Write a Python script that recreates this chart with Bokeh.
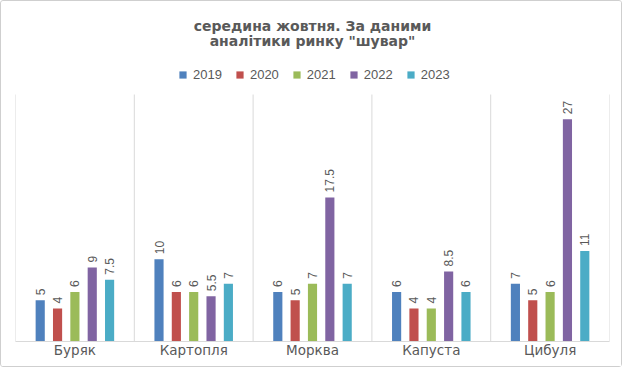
import math
from bokeh.plotting import figure
from bokeh.models import (ColumnDataSource, FixedTicker, Legend, LegendItem, Label)
from bokeh.core.properties import value
from bokeh.embed import file_html
from bokeh.resources import INLINE

categories = ["Буряк", "Картопля", "Морква", "Капуста", "Цибуля"]
years = ["2019", "2020", "2021", "2022", "2023"]
v2019 = [5, 10, 6, 6, 7]
v2020 = [4, 6, 5, 4, 5]
v2021 = [6, 6, 7, 4, 6]
v2022 = [9, 5.5, 17.5, 8.5, 27]
v2023 = [7.5, 7, 7, 6, 11]
series = [v2019, v2020, v2021, v2022, v2023]
colors = ["#4F81BD", "#C0504D", "#9BBB59", "#8064A2", "#4BACC6"]
title_lines = ["середина жовтня. За даними", "аналітики ринку \"шувар\""]
YMAX = 30

GREY = "#595959"
W, H = 622, 367
LEFT, RIGHT = 14, 14
TOP = 0           # frame spans the full height; title and legend sit inside it
PLOT_TOP = 93     # where the value axis max sits
BOTTOM = 27
frame_w = W - LEFT - RIGHT
frame_h = H - TOP - BOTTOM
plot_h = H - PLOT_TOP - BOTTOM
y_end = YMAX * frame_h / plot_h

p = figure(width=W, height=H, output_backend="svg", toolbar_location=None,
           x_range=(0, len(categories)), y_range=(0, y_end),
           y_axis_location=None, min_border_left=LEFT, min_border_right=RIGHT,
           min_border_top=TOP, min_border_bottom=BOTTOM)
p.styles = {"border": "1px solid #cfcfcf", "border-radius": "3px"}
p.outline_line_color = None
p.background_fill_color = "white"
p.border_fill_color = "white"
p.grid.visible = False
p.title = None

# category separators (Excel-style vertical gridlines between categories)
bounds = list(range(len(categories) + 1))
p.segment(x0=bounds, y0=[0] * len(bounds), x1=bounds, y1=[YMAX] * len(bounds),
          line_color="#d9d9d9", line_width=1)

xa = p.xaxis[0]
xa.ticker = FixedTicker(ticks=[i + 0.5 for i in range(len(categories))])
xa.major_label_overrides = {i + 0.5: c for i, c in enumerate(categories)}
xa.major_tick_line_color = None
xa.major_tick_out = 0
xa.major_tick_in = 0
xa.minor_tick_line_color = None
xa.minor_tick_out = 0
xa.axis_line_color = "#d9d9d9"
xa.major_label_text_color = GREY
xa.major_label_text_font = "DejaVu Sans"
xa.major_label_text_font_size = "13.5px"
xa.major_label_standoff = 0

step = 0.146
bw = 0.077
items = []
for k, (yr, vals, col) in enumerate(zip(years, series, colors)):
    off = (k - 2) * step
    xs = [i + 0.5 + off for i in range(len(categories))]
    labels = [("%g" % v) for v in vals]
    src = ColumnDataSource(dict(x=xs, top=vals, lab=labels))
    r = p.vbar(x="x", top="top", width=bw, bottom=0, source=src,
               fill_color=col, line_color=None)
    p.text(x="x", y="top", text="lab", source=src, angle=math.pi / 2,
           text_align="left", text_baseline="middle", x_offset=0, y_offset=-5,
           text_color=GREY, text_font=value("Liberation Sans"),
           text_font_size="12px")
    items.append(LegendItem(label=yr, renderers=[r]))

legend = Legend(items=items, orientation="horizontal", location=(163, 259),
                glyph_width=9, glyph_height=9, label_standoff=6, spacing=13,
                padding=0, margin=0, border_line_color=None,
                background_fill_alpha=0,
                label_text_font="Liberation Sans", label_text_font_size="13px",
                label_text_color=GREY)
p.add_layout(legend, "center")

for j, t in enumerate(title_lines):
    p.add_layout(Label(x=frame_w / 2, y=frame_h - 24 - j * 15.5,
                       x_units="screen", y_units="screen", text=t,
                       text_align="center", text_baseline="middle",
                       text_font="DejaVu Sans", text_font_style="bold",
                       text_font_size="14px", text_color=GREY))

open("out.html", "w").write(file_html(p, INLINE))
